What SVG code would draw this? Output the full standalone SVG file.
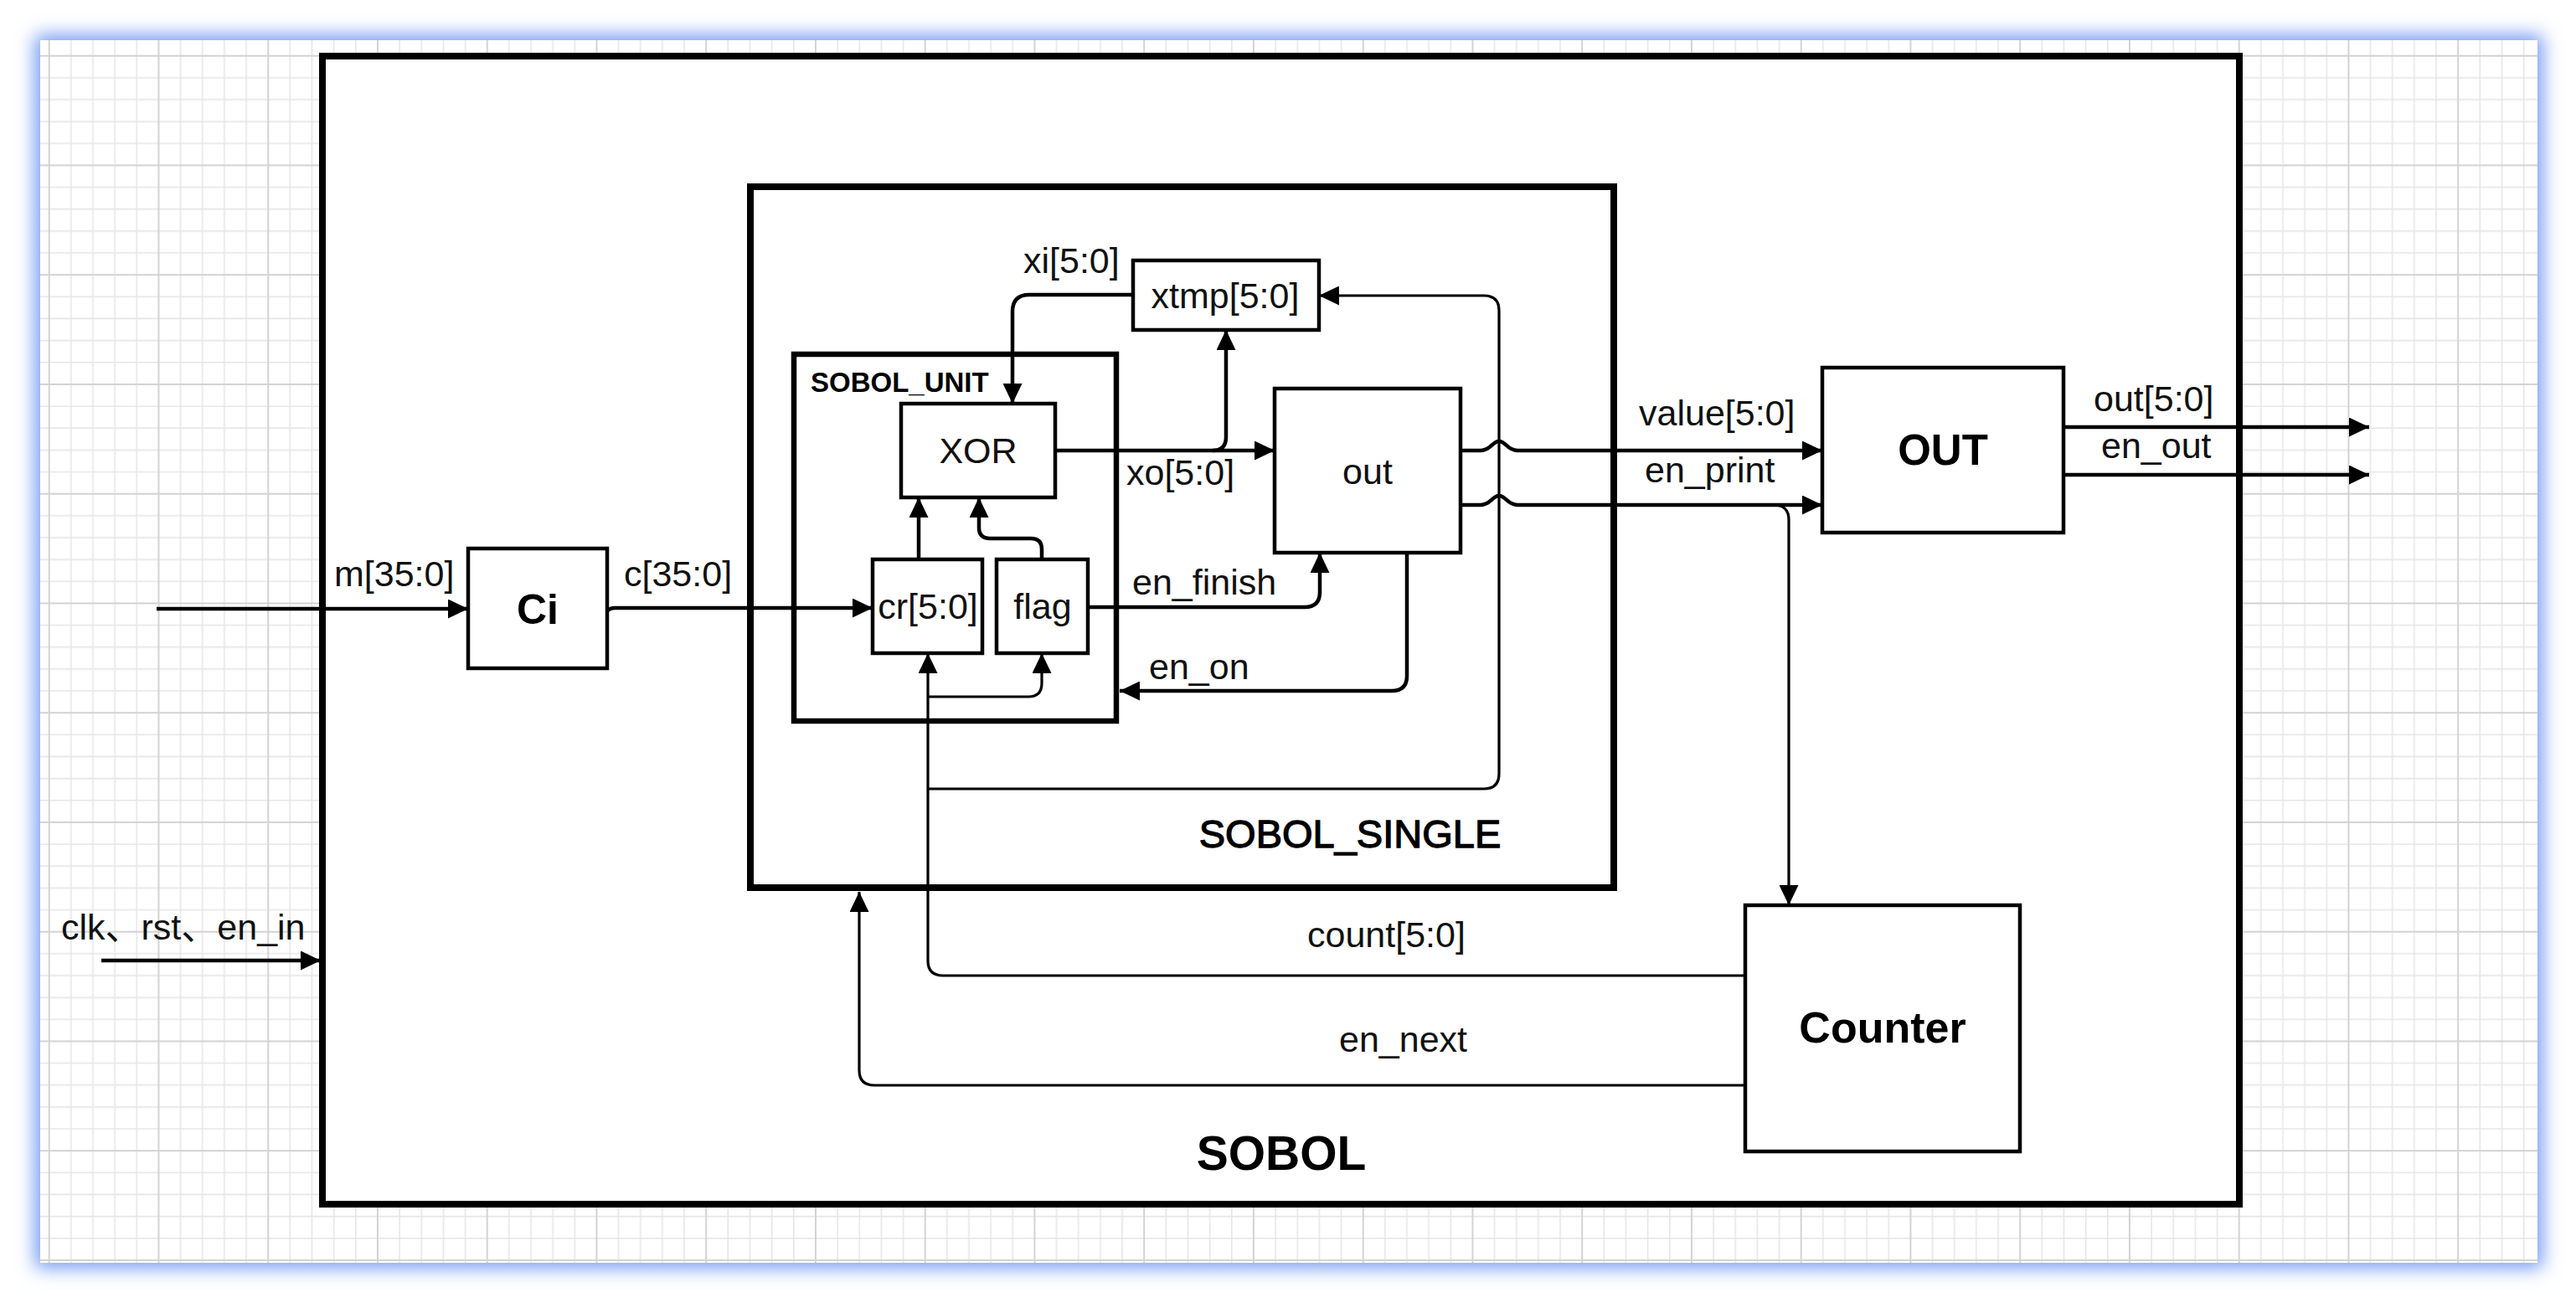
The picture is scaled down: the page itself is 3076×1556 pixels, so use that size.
<svg xmlns="http://www.w3.org/2000/svg" width="3076" height="1556" viewBox="0 0 3076 1556">
<defs>
<style>
.box{fill:#fff;stroke:#000;stroke-width:4.5}
.cont{fill:#fff;stroke:#000;stroke-width:8}
.wire{fill:none;stroke:#000;stroke-width:4.5}
.thin{fill:none;stroke:#000;stroke-width:3.2}
.lbl{font-family:"Liberation Sans",Arial,"Noto Sans CJK SC",sans-serif;font-size:43px;fill:#111}
.c{text-anchor:middle}
.b{font-weight:bold;fill:#000}
</style>
<marker id="ah" markerUnits="userSpaceOnUse" markerWidth="25" markerHeight="23" refX="24" refY="11.5" orient="auto">
<path d="M0,0 L24,11.5 L0,23 z" fill="#000"/>
</marker>
<pattern id="grid" patternUnits="userSpaceOnUse" x="57.7" y="65.7" width="130.75" height="130.75">
<path d="M1,0 V130.75 M27.15,0 V130.75 M53.3,0 V130.75 M79.45,0 V130.75 M105.6,0 V130.75 M0,1 H130.75 M0,27.15 H130.75 M0,53.3 H130.75 M0,79.45 H130.75 M0,105.6 H130.75" stroke="#e6e6e6" stroke-width="1.6" fill="none"/>
<path d="M1,0 V130.75 M0,1 H130.75" stroke="#d3d3d3" stroke-width="2" fill="none"/>
</pattern>
<filter id="glow" x="-5%" y="-5%" width="110%" height="110%">
<feGaussianBlur stdDeviation="11"/>
</filter>
</defs>

<rect x="0" y="0" width="3076" height="1556" fill="#fff"/>
<rect x="42" y="42" width="2994" height="1472" fill="#7199f1" filter="url(#glow)"/>
<rect x="48" y="48" width="2982" height="1460" fill="#fff"/>
<rect x="48" y="48" width="2982" height="1460" fill="url(#grid)"/>

<g id="SOBOL">
<rect class="cont" x="385" y="67" width="2289" height="1371"/>
<text class="lbl b c" x="1530" y="1397" style="font-size:57px">SOBOL</text>
</g>

<g id="SOBOL_SINGLE">
<rect class="cont" x="896" y="223" width="1031" height="837"/>
<text class="lbl c" x="1612" y="1012" style="font-size:47px;fill:#000;stroke:#000;stroke-width:1.3">SOBOL_SINGLE</text>
</g>

<g id="SOBOL_UNIT">
<rect class="box" style="stroke-width:6.5" x="948" y="423" width="385" height="438"/>
<text class="lbl b" x="968" y="468" style="font-size:33px">SOBOL_UNIT</text>
</g>

<g id="Ci">
<rect class="box" x="559" y="655" width="166" height="143"/>
<text class="lbl b c" x="642" y="745" style="font-size:50px">Ci</text>
</g>

<g id="XOR">
<rect class="box" x="1076" y="482" width="184" height="112"/>
<text class="lbl c" x="1168" y="553">XOR</text>
</g>

<g id="cr">
<rect class="box" x="1042" y="668" width="131" height="112"/>
<text class="lbl c" x="1108" y="739">cr[5:0]</text>
</g>

<g id="flag">
<rect class="box" x="1190" y="668" width="109" height="112"/>
<text class="lbl c" x="1245" y="739">flag</text>
</g>

<g id="xtmp">
<rect class="box" x="1353" y="311" width="222" height="83"/>
<text class="lbl c" x="1463" y="368">xtmp[5:0]</text>
</g>

<g id="out">
<rect class="box" x="1522" y="464" width="222" height="196"/>
<text class="lbl c" x="1633" y="578">out</text>
</g>

<g id="OUT">
<rect class="box" x="2176" y="439" width="288" height="197"/>
<text class="lbl b c" x="2320" y="555" style="font-size:51px">OUT</text>
</g>

<g id="Counter">
<rect class="box" x="2084" y="1081" width="328" height="294"/>
<text class="lbl b c" x="2248" y="1245" style="font-size:52px">Counter</text>
</g>

<g id="connectors">
<path class="wire" d="M187,727 H559" marker-end="url(#ah)"/>
<path class="wire" d="M121,1147 H383" marker-end="url(#ah)"/>
<path class="wire" d="M725,730 Q728,726 734,726 H1042" marker-end="url(#ah)"/>
<path class="wire" d="M1097,668 V594" marker-end="url(#ah)"/>
<path class="wire" d="M1244,668 V656 Q1244,643 1231,643 H1182 Q1169,643 1169,630 V594" marker-end="url(#ah)"/>
<path class="wire" d="M1260,538 H1522" marker-end="url(#ah)"/>
<path class="wire" d="M1448,538 Q1464,538 1464,522 V394" marker-end="url(#ah)"/>
<path class="wire" d="M1353,352 H1229 Q1209,352 1209,372 V482" marker-end="url(#ah)"/>
<path class="wire" d="M1744,538 H1768 C1780,538 1782,527 1790,527 C1798,527 1800,538 1812,538 H2176" marker-end="url(#ah)"/>
<path class="wire" d="M1744,603 H1768 C1780,603 1782,592 1790,592 C1798,592 1800,603 1812,603 H2176" marker-end="url(#ah)"/>
<path class="thin" d="M2118,603 Q2136,603 2136,621 V1081" marker-end="url(#ah)"/>
<path class="wire" d="M1680,660 V807 Q1680,825 1662,825 H1337" marker-end="url(#ah)"/>
<path class="wire" d="M1299,725 H1558 Q1576,725 1576,707 V660" marker-end="url(#ah)"/>
<path class="thin" d="M1108,942 H1772 Q1790,942 1790,924 V371 Q1790,353 1772,353 H1575" marker-end="url(#ah)"/>
<path class="thin" d="M2084,1165 H1126 Q1108,1165 1108,1147 V780" marker-end="url(#ah)"/>
<path class="thin" d="M1108,832 H1228 Q1244,832 1244,816 V780" marker-end="url(#ah)"/>
<path class="thin" d="M2084,1296 H1044 Q1026,1296 1026,1278 V1065" marker-end="url(#ah)"/>
<path class="wire" d="M2464,510 H2829" marker-end="url(#ah)"/>
<path class="wire" d="M2464,567 H2829" marker-end="url(#ah)"/>

<text class="lbl" x="399" y="700">m[35:0]</text>
<text class="lbl" x="745" y="700">c[35:0]</text>
<text class="lbl" x="73" y="1122">clk、rst、en_in</text>
<text class="lbl" x="1222" y="326">xi[5:0]</text>
<text class="lbl" x="1345" y="579">xo[5:0]</text>
<text class="lbl" x="1352" y="710">en_finish</text>
<text class="lbl" x="1372" y="811">en_on</text>
<text class="lbl" x="1957" y="508">value[5:0]</text>
<text class="lbl" x="1964" y="576">en_print</text>
<text class="lbl" x="2500" y="491">out[5:0]</text>
<text class="lbl" x="2509" y="547">en_out</text>
<text class="lbl" x="1561" y="1131">count[5:0]</text>
<text class="lbl" x="1599" y="1256">en_next</text>
</g>
</svg>
